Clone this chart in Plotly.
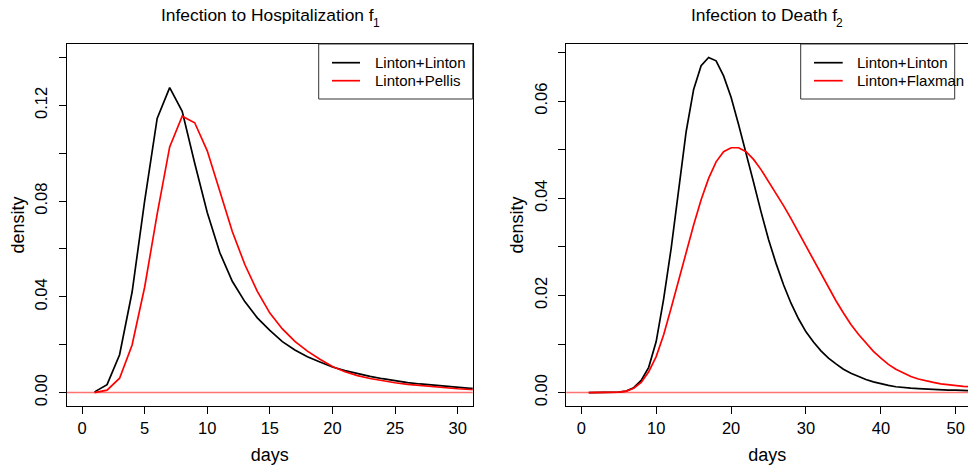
import plotly.graph_objects as go

# ---- data: daily densities ----
days_f1 = list(range(1, 33))
f1_linton_linton = [0.0003, 0.0033, 0.0158, 0.0420, 0.0800, 0.1145, 0.1274, 0.1175,
                    0.0958, 0.0752, 0.0585, 0.0465, 0.0380, 0.0312, 0.0260, 0.0213,
                    0.0178, 0.0150, 0.0128, 0.0107, 0.0092, 0.0079, 0.0068, 0.0058,
                    0.0049, 0.0042, 0.0036, 0.0031, 0.0026, 0.0022, 0.0018, 0.0016]
f1_linton_pellis = [0.0000, 0.0010, 0.0060, 0.0199, 0.0440, 0.0745, 0.1026, 0.1154,
                    0.1127, 0.1010, 0.0842, 0.0673, 0.0535, 0.0423, 0.0332, 0.0266,
                    0.0214, 0.0173, 0.0139, 0.0109, 0.0087, 0.0071, 0.0059, 0.0049,
                    0.0041, 0.0034, 0.0029, 0.0024, 0.0020, 0.0016, 0.0013, 0.0011]

days_f2 = list(range(1, 53))
f2_linton_linton = [0.0000, 0.0000, 0.0000, 0.0000, 0.0001, 0.0003, 0.0010, 0.0025,
                    0.0052, 0.0105, 0.0193, 0.0297, 0.0420, 0.0537, 0.0624, 0.0673,
                    0.0690, 0.0683, 0.0652, 0.0608, 0.0552, 0.0495, 0.0433, 0.0372,
                    0.0315, 0.0266, 0.0222, 0.0184, 0.0152, 0.0125, 0.0104, 0.0086,
                    0.0071, 0.0059, 0.0048, 0.0040, 0.0033, 0.0027, 0.0022, 0.0018,
                    0.0015, 0.0012, 0.0010, 0.0009, 0.0008, 0.0007, 0.0006, 0.0006,
                    0.0005, 0.0005, 0.0004, 0.0004]
f2_linton_flaxman = [0.0000, 0.0000, 0.0000, 0.0000, 0.0001, 0.0003, 0.0009, 0.0021,
                     0.0043, 0.0074, 0.0119, 0.0174, 0.0232, 0.0290, 0.0345, 0.0397,
                     0.0441, 0.0475, 0.0496, 0.0504, 0.0504, 0.0496, 0.0480, 0.0459,
                     0.0435, 0.0410, 0.0385, 0.0358, 0.0330, 0.0302, 0.0272, 0.0243,
                     0.0215, 0.0189, 0.0164, 0.0140, 0.0120, 0.0102, 0.0085, 0.0071,
                     0.0058, 0.0048, 0.0040, 0.0033, 0.0028, 0.0024, 0.0021, 0.0018,
                     0.0016, 0.0015, 0.0013, 0.0012]

f1_xticks = [0, 5, 10, 15, 20, 25, 30]
f1_yticks = [0.00, 0.04, 0.08, 0.12]
f1_yticks_minor = [0.02, 0.06, 0.10, 0.14]
f1_ylabels = ["0.00", "0.04", "0.08", "0.12"]
f2_xticks = [0, 10, 20, 30, 40, 50]
f2_yticks = [0.00, 0.02, 0.04, 0.06]
f2_yticks_minor = [0.01, 0.03, 0.05, 0.07]
f2_ylabels = ["0.00", "0.02", "0.04", "0.06"]

# panel titles: main text plus subscript index
titles = ["Infection to Hospitalization f", "Infection to Death f"]
title_subs = ["1", "2"]
x_title = "days"
y_title = "density"
legend_f1 = ["Linton+Linton", "Linton+Pellis"]
legend_f2 = ["Linton+Linton", "Linton+Flaxman"]

# ---- geometry (pixels) ----
W, H = 968, 468
FONT = "Liberation Sans, Arial, Helvetica, sans-serif"


def px(x):
    return x / W


def py(y):
    return 1 - y / H


PLOT_TOP, PLOT_BOT = 44, 406
L_LEFT, L_RIGHT = 67, 472.7
R_LEFT = 566.3

fig = go.Figure()

fig.add_trace(go.Scatter(x=days_f1, y=f1_linton_linton, mode="lines",
                         line=dict(color="black", width=1.7), xaxis="x", yaxis="y",
                         showlegend=False))
fig.add_trace(go.Scatter(x=days_f1, y=f1_linton_pellis, mode="lines",
                         line=dict(color="red", width=1.7), xaxis="x", yaxis="y",
                         showlegend=False))
fig.add_trace(go.Scatter(x=days_f2, y=f2_linton_linton, mode="lines",
                         line=dict(color="black", width=1.7), xaxis="x2", yaxis="y2",
                         showlegend=False))
fig.add_trace(go.Scatter(x=days_f2, y=f2_linton_flaxman, mode="lines",
                         line=dict(color="red", width=1.7), xaxis="x2", yaxis="y2",
                         showlegend=False))

axis_common = dict(showgrid=False, zeroline=False, showline=True, linecolor="black",
                   linewidth=1, ticks="outside", ticklen=7, tickwidth=1,
                   tickcolor="black", tickfont=dict(family=FONT, size=16.5, color="black"))

title_font = dict(family=FONT, size=18, color="black")


def minor_ticks(vals):
    return dict(tickvals=vals, ticks="outside", ticklen=7, tickwidth=1,
                tickcolor="black", showgrid=False)


ydom = [py(PLOT_BOT), py(PLOT_TOP)]

fig.update_layout(
    width=W, height=H,
    margin=dict(l=0, r=0, t=0, b=0),
    paper_bgcolor="white", plot_bgcolor="white",
    showlegend=False,
    xaxis=dict(domain=[px(L_LEFT), px(L_RIGHT)], range=[-1.2, 31.2],
               tickvals=f1_xticks, mirror=True, anchor="y",
               title=dict(text=x_title, font=title_font, standoff=12), **axis_common),
    yaxis=dict(domain=ydom, range=[-0.0056, 0.1456], tickvals=f1_yticks,
               ticktext=f1_ylabels, tickangle=-90, mirror=True, anchor="x",
               ticklabelstandoff=5, minor=minor_ticks(f1_yticks_minor),
               title=dict(text=y_title, font=title_font, standoff=3), **axis_common),
    xaxis2=dict(domain=[px(R_LEFT), 1.0], range=[-2, 51.63],
                tickvals=f2_xticks, mirror=True, anchor="y2",
                title=dict(text=x_title, font=title_font, standoff=12), **axis_common),
    yaxis2=dict(domain=ydom, range=[-0.00276, 0.07176], tickvals=f2_yticks,
                ticktext=f2_ylabels, tickangle=-90, mirror=False, anchor="x2",
                ticklabelstandoff=5, minor=minor_ticks(f2_yticks_minor),
                title=dict(text=y_title, font=title_font, standoff=3), **axis_common),
)

# horizontal reference line at zero density
for xr, yr in (("x domain", "y"), ("x2 domain", "y2")):
    fig.add_shape(type="line", xref=xr, yref=yr, x0=0, x1=1, y0=0, y1=0,
                  line=dict(color="rgba(255,0,0,0.55)", width=1.5))

annotations = []
# panel titles: text right-aligned at the end of "f", index set just after it
for f_end, t, sub in ((373.5, titles[0], title_subs[0]), (836.5, titles[1], title_subs[1])):
    annotations.append(dict(text=t, x=px(f_end), y=py(15), xref="paper", yref="paper",
                            xanchor="right", yanchor="middle", showarrow=False,
                            borderpad=0, borderwidth=0,
                            font=dict(family=FONT, size=17.4, color="black")))
    annotations.append(dict(text=sub, x=px(f_end - 0.5), y=py(22.5), xref="paper",
                            yref="paper", xanchor="left", yanchor="middle",
                            showarrow=False, borderpad=0, borderwidth=0,
                            font=dict(family=FONT, size=12, color="black")))

# legends: framed box with line keys
shapes = []
for box_left, key_x0, key_x1, text_x, labels in (
        (318.7, 332, 360, 373.3, legend_f1),
        (800.7, 814, 842.7, 855.3, legend_f2)):
    shapes.append(dict(type="rect", xref="paper", yref="paper",
                       x0=px(box_left), x1=px(box_left + 154), y0=py(99), y1=py(PLOT_TOP),
                       line=dict(color="#333333", width=1), fillcolor="white", layer="above"))
    for ky, col, lab in ((62.7, "black", labels[0]), (80.7, "red", labels[1])):
        shapes.append(dict(type="line", xref="paper", yref="paper",
                           x0=px(key_x0), x1=px(key_x1), y0=py(ky), y1=py(ky),
                           line=dict(color=col, width=1.7), layer="above"))
        annotations.append(dict(text=lab, x=px(text_x), y=py(ky), xref="paper", yref="paper",
                                xanchor="left", yanchor="middle", showarrow=False,
                                font=dict(family=FONT, size=15, color="black")))

fig.update_layout(annotations=annotations)
for s in shapes:
    fig.add_shape(**s)

fig.write_html("out.html")
